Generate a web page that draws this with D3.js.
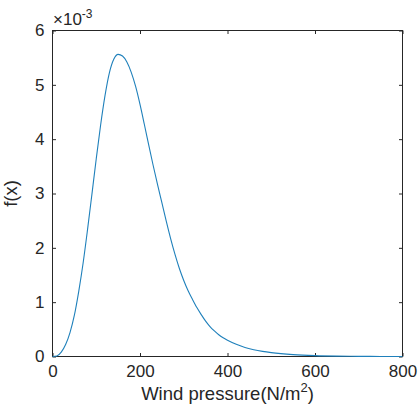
<!DOCTYPE html>
<html>
<head>
<meta charset="utf-8">
<script src="https://cdn.jsdelivr.net/npm/d3@7"></script>
<style>
  html, body { margin: 0; padding: 0; background: #fff; }
  svg { display: block; font-family: "Liberation Sans", Arial, sans-serif; }
</style>
</head>
<body>
<svg id="chart" width="418" height="408"></svg>
<script>
// Wind pressure (N/m^2)
const pressure = [0,10,20,30,40,50,60,70,80,90,100,110,120,130,140,150,160,170,180,190,200,210,220,230,240,250,260,270,280,290,300,310,320,330,340,350,360,370,380,390,400,420,440,460,480,500,550,600,650,700,750,800];
// f(x) in units of 1e-3
const density = [0,0.01,0.08,0.22,0.44,0.76,1.2,1.72,2.33,2.98,3.64,4.26,4.80,5.22,5.47,5.56,5.53,5.42,5.23,4.97,4.64,4.27,3.89,3.52,3.17,2.83,2.49,2.17,1.88,1.62,1.40,1.21,1.05,0.90,0.77,0.65,0.55,0.47,0.40,0.345,0.30,0.225,0.165,0.125,0.095,0.072,0.035,0.016,0.007,0.003,0.0012,0.0005];
const xTicks = [0,200,400,600,800];
const yTicks = [0,1,2,3,4,5,6];

const svg = d3.select("#chart");
const L = 52.5, R = 402.5, T = 30.5, B = 356.5;
const x = d3.scaleLinear().domain([0, 800]).range([L, R]);
const y = d3.scaleLinear().domain([0, 6]).range([B, T]);
const axisColor = "#262626";
const tickLen = 3.5;

// bottom axis
const gx = svg.append("g").attr("transform", `translate(0,${B})`)
  .call(d3.axisBottom(x).tickValues(xTicks).tickSizeInner(-tickLen).tickSizeOuter(0).tickPadding(8).tickFormat(d3.format("d")));
// left axis
const gy = svg.append("g").attr("transform", `translate(${L},0)`)
  .call(d3.axisLeft(y).tickValues(yTicks).tickSizeInner(-tickLen).tickSizeOuter(0).tickPadding(8).tickFormat(d3.format("d")));
// top axis (ticks only)
const gt = svg.append("g").attr("transform", `translate(0,${T})`)
  .call(d3.axisTop(x).tickValues(xTicks).tickSizeInner(-tickLen).tickSizeOuter(0).tickFormat(""));
// right axis (ticks only)
const gr = svg.append("g").attr("transform", `translate(${R},0)`)
  .call(d3.axisRight(y).tickValues(yTicks).tickSizeInner(-tickLen).tickSizeOuter(0).tickFormat(""));

[gx, gy, gt, gr].forEach(g => {
  g.select(".domain").remove();
  g.selectAll(".tick line").attr("stroke", axisColor).attr("stroke-width", 1);
  g.selectAll(".tick text").attr("fill", axisColor).style("font-size", "17px");
});

// box
svg.append("rect").attr("x", L).attr("y", T).attr("width", R - L).attr("height", B - T)
  .attr("fill", "none").attr("stroke", axisColor).attr("stroke-width", 1);

// curve
const pts = pressure.map((p, i) => [p, density[i]]);
svg.append("path").datum(pts)
  .attr("fill", "none").attr("stroke", "#1f80bb").attr("stroke-width", 1.1)
  .attr("d", d3.line().x(d => x(d[0])).y(d => y(d[1])).curve(d3.curveMonotoneX));

// exponent label
const ex = svg.append("text").attr("x", L + 0.5).attr("y", 25).attr("fill", axisColor).style("font-size", "17px");
ex.append("tspan").text("\u00d710");
ex.append("tspan").attr("dy", -7).style("font-size", "12px").text("-3");

// x label
const xl = svg.append("text").attr("x", (L + R) / 2).attr("y", 400).attr("text-anchor", "middle")
  .attr("fill", axisColor).style("font-size", "18.5px");
xl.append("tspan").text("Wind pressure(N/m");
xl.append("tspan").attr("dy", -8).style("font-size", "13px").text("2");
xl.append("tspan").attr("dy", 8).text(")");

// y label
svg.append("text").attr("transform", `translate(17,${(T + B) / 2}) rotate(-90)`)
  .attr("text-anchor", "middle").attr("fill", axisColor).style("font-size", "18.5px").text("f(x)");
</script>
</body>
</html>
